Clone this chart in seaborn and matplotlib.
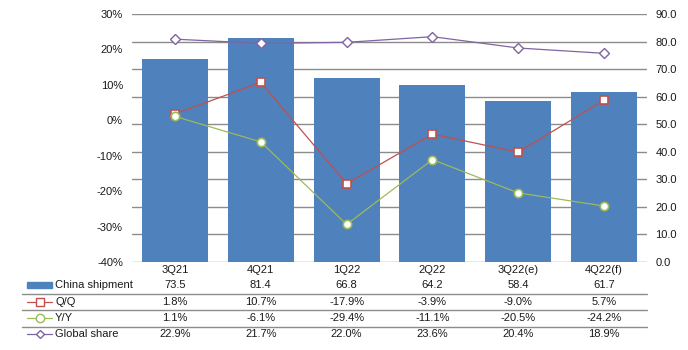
import matplotlib
matplotlib.use("Agg")
import matplotlib.pyplot as plt
import matplotlib.transforms as mtrans
from matplotlib.lines import Line2D
from matplotlib.patches import Rectangle
import seaborn as sns
import pandas as pd

categories = ["3Q21", "4Q21", "1Q22", "2Q22", "3Q22(e)", "4Q22(f)"]
china_shipment = [73.5, 81.4, 66.8, 64.2, 58.4, 61.7]
qoq = [1.8, 10.7, -17.9, -3.9, -9.0, 5.7]
yoy = [1.1, -6.1, -29.4, -11.1, -20.5, -24.2]
global_share = [22.9, 21.7, 22.0, 23.6, 20.4, 18.9]

left_ticks = [-40, -30, -20, -10, 0, 10, 20, 30]
right_ticks = [0, 10, 20, 30, 40, 50, 60, 70, 80, 90]

sns.set_theme(style="white")
plt.rcParams["font.family"] = ["Liberation Sans", "DejaVu Sans"]
plt.rcParams["font.size"] = 8

BAR = "#4F81BD"
RED = "#C0504D"
GREEN = "#9BBB59"
PURPLE = "#8064A2"
GRID = "#8C8C8C"
TXT = "#1A1A1A"

W, H = 688, 350
fig = plt.figure(figsize=(W / 100, H / 100), dpi=100)
L, R, T, B = 132, 647, 14, 262
rect = [L / W, 1 - B / H, (R - L) / W, (B - T) / H]

# background axes carrying only the horizontal gridlines (right-axis scale)
axg = fig.add_axes(rect)
axg.set_ylim(0, 90)
axg.set_yticks(right_ticks)
axg.set_xticks([])
axg.yaxis.grid(True, color=GRID, linewidth=1)
axg.tick_params(axis="y", length=0, labelleft=False, labelright=False)
for s in axg.spines.values():
    s.set_visible(False)

ax = fig.add_axes(rect)
ax.patch.set_visible(False)
df = pd.DataFrame({"cat": categories, "ship": china_shipment, "qoq": qoq,
                   "yoy": yoy, "share": global_share})

sns.barplot(data=df, x="cat", y="ship", color=BAR, saturation=1, width=0.77,
            alpha=1, linewidth=0, ax=ax)
for p in ax.patches:
    p.set_alpha(1)
    p.set_zorder(3)
ax.set_xlabel("")
ax.set_ylabel("")
ax.set_xlim(-0.5, 5.5)
ax.set_ylim(0, 90)
ax.set_yticks(right_ticks)
ax.set_yticklabels([f"{v:.1f}" for v in right_ticks])
ax.grid(False)
for s in ax.spines.values():
    s.set_visible(False)
ax.tick_params(axis="x", length=0, pad=2, labelsize=8, colors=TXT)

ax2 = ax.twinx()
ax2.set_ylim(-40, 30)
ax2.set_yticks(left_ticks)
ax2.set_yticklabels([f"{v}%" for v in left_ticks])
for s in ax2.spines.values():
    s.set_visible(False)

sns.lineplot(data=df, x="cat", y="qoq", sort=False, color=RED, linewidth=0.9,
             marker="s", markersize=6, markerfacecolor="white",
             markeredgecolor=RED, markeredgewidth=1.2, ax=ax2)
sns.lineplot(data=df, x="cat", y="yoy", sort=False, color=GREEN, linewidth=0.9,
             marker="o", markersize=6, markerfacecolor="white",
             markeredgecolor=GREEN, markeredgewidth=1.2, ax=ax2)
sns.lineplot(data=df, x="cat", y="share", sort=False, color=PURPLE, linewidth=0.9,
             marker="D", markersize=5, markerfacecolor="white",
             markeredgecolor=PURPLE, markeredgewidth=1.0, ax=ax2)
ax2.set_xlabel("")
ax2.set_ylabel("")
ax2.set_xlim(-0.5, 5.5)
ax2.grid(False)

# axis sides after twinx
ax.yaxis.set_ticks_position("right")
ax2.yaxis.set_ticks_position("left")
ax.tick_params(axis="y", length=0, pad=6, labelsize=8, colors=TXT,
               labelright=True, labelleft=False)
ax2.tick_params(axis="y", length=0, pad=6.5, labelsize=8, colors=TXT,
                labelleft=True, labelright=False)

# data table
trans = mtrans.blended_transform_factory(ax.transData, fig.transFigure)
def fy(py):
    return 1 - py / H

rows = [
    ("China shipment", [f"{v:.1f}" for v in china_shipment], 285),
    ("Q/Q", [f"{v:.1f}%" for v in qoq], 301.7),
    ("Y/Y", [f"{v:.1f}%" for v in yoy], 317.7),
    ("Global share", [f"{v:.1f}%" for v in global_share], 333.7),
]
for label, vals, py in rows:
    for i, v in enumerate(vals):
        fig.text(i, fy(py), v, transform=trans, ha="center", va="center",
                 fontsize=8, color=TXT)
    fig.text(55 / W, fy(py), label, ha="left", va="center", fontsize=8,
             color=TXT)

# legend keys
fig.add_artist(Rectangle((27 / W, fy(288)), 25 / W, 6 / H,
                         transform=fig.transFigure, color=BAR))
for py, col, mk, ms in [(301.7, RED, "s", 6), (317.7, GREEN, "o", 6),
                        (333.7, PURPLE, "D", 4)]:
    fig.add_artist(Line2D([27 / W, 52 / W], [fy(py), fy(py)],
                          transform=fig.transFigure, color=col, linewidth=0.9))
    fig.add_artist(Line2D([39.5 / W], [fy(py)], transform=fig.transFigure,
                          marker=mk, markersize=ms, markerfacecolor="white",
                          markeredgecolor=col, markeredgewidth=1.0,
                          linestyle="none"))

for py in [293.5, 310, 326.5]:
    fig.add_artist(Line2D([22 / W, R / W], [fy(py), fy(py)],
                          transform=fig.transFigure, color=GRID, linewidth=1))

fig.savefig("out.png", dpi=100)
